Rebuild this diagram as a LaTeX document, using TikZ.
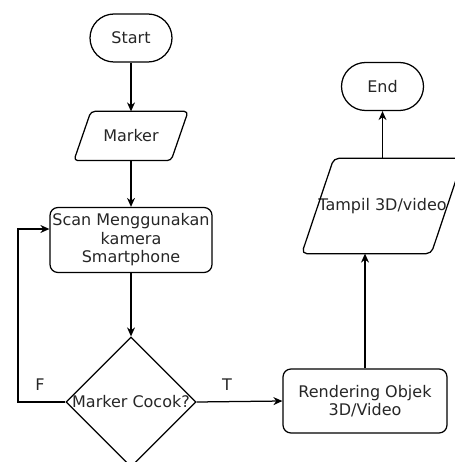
\documentclass[tikz,border=0pt]{standalone}
\usepackage{fontspec}
\setmainfont{DejaVu Sans}
\usetikzlibrary{shapes.misc,shapes.geometric,arrows.meta}

\tikzset{every picture/.style={line width=1.25pt}}
\tikzset{
  term/.style={draw, rounded rectangle, minimum width=82pt, minimum height=48pt, inner sep=0pt},
  io/.style={rectangle, inner sep=0pt},
  proc/.style={draw, rectangle, rounded corners=8pt, minimum width=162pt, minimum height=65pt, align=center, inner sep=0pt},
  dec/.style={draw, diamond, minimum width=130pt, minimum height=130pt, inner sep=0pt},
  flow/.style={-{Stealth[length=9pt,width=8pt]}},
  txt/.style={font=\fontsize{16}{18.5}\selectfont, text=black!85}
}

\begin{document}
\begin{tikzpicture}[x=1pt, y=-1pt, txt]
        \useasboundingbox (0,0) rectangle (454,462);
        \node[term] (start) at (131,38) {Start};
        \node[io, minimum width=96pt, minimum height=48pt] (marker) at (131,136) {Marker};
        \node[proc] (scan) at (131,240) {Scan Menggunakan\\kamera\\Smartphone};
        \node[dec] (cocok) at (131,402) {};
        \node (cocoktxt) at (cocok.center) {Marker Cocok?};
        \node[proc, minimum width=164pt, minimum height=64pt] (render) at (365,401) {Rendering Objek\\3D/Video};
        \node[io, minimum width=127pt, minimum height=94pt] (tampil) at (382.5,206) {Tampil 3D/video};
        \node[term] (end) at (382.5,86.5) {End};
        \coordinate (loop) at (18,402);

        % parallelogram outlines
        \draw[rounded corners=4pt] ([xshift=-8.5pt]marker.south west) -- ([xshift=8.5pt]marker.north west) -- ([xshift=8.5pt]marker.north east) -- ([xshift=-8.5pt]marker.south east) -- cycle;
        \draw[rounded corners=5pt] ([xshift=-16pt]tampil.south west) -- ([xshift=16pt]tampil.north west) -- ([xshift=16pt]tampil.north east) -- ([xshift=-16pt]tampil.south east) -- cycle;

        \draw[flow] (start.south) -- (marker.north);
        \draw[flow] (marker.south) -- (scan.north);
        \draw[flow] (scan.south) -- (cocok.north);
        \draw[flow] (cocok.west) -- (loop) |- ([yshift=11pt]scan.west);
        \draw[flow] (cocok.east) -- (render.west);
        \draw[flow] (render.north) -- (render.north |- tampil.south);
        \draw[flow] (tampil.north) -- (end.south);
        \node (f) at (40,385) {F};
        \node (t) at (227,385) {T};
    \end{tikzpicture}
\end{document}
